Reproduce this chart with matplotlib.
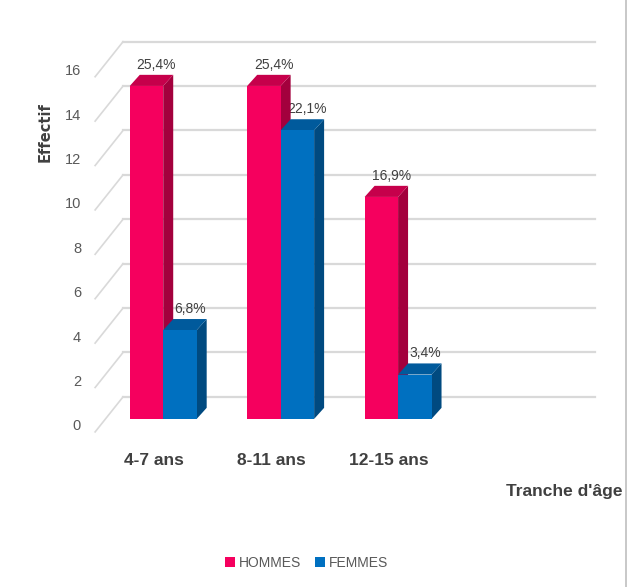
import matplotlib
matplotlib.use('Agg')
import matplotlib.pyplot as plt
from matplotlib.patches import Polygon, Patch
from matplotlib.lines import Line2D
import numpy as np

plt.rcParams['font.family'] = ['Liberation Sans Narrow', 'Liberation Sans', 'DejaVu Sans']

# data
categories = ['4-7 ans', '8-11 ans', '12-15 ans']
hommes = [15, 15, 10]
femmes = [4, 13, 2]
hommes_pct = ['25,4%', '25,4%', '16,9%']
femmes_pct = ['6,8%', '22,1%', '3,4%']
yticks = [0, 2, 4, 6, 8, 10, 12, 14, 16]

# colours (front, top, side)
c_h = ('#F5005E', '#C6004B', '#A3003D')
c_f = ('#0070C0', '#005A9C', '#004A80')

fig = plt.figure(figsize=(6.3, 5.87), dpi=100)
ax = fig.add_axes([0.151, 0.2504, 0.794, 0.6985])
xmin, xmax = -0.58, 3.68
ax.set_xlim(xmin, xmax)
ax.set_ylim(-0.95, 17.52)
ax.axis('off')

# 3d-ish offsets
gx, gy = 0.238, 1.58      # grid wall depth
g0 = -0.585               # front of grid floor
bdx, bdy = 0.085, 0.5     # bar depth
w = 0.285

# back wall grid
for v in yticks:
    yf = v + g0
    yb = yf + gy
    ax.plot([xmin, xmin + gx], [yf, yb], color='#D9D9D9', lw=1.2, zorder=1, clip_on=False)
    ax.plot([xmin + gx, xmax], [yb, yb], color='#D9D9D9', lw=1.6, zorder=1, clip_on=False)
    ax.text(xmin - 0.12, yf + 0.25, str(v), ha='right', va='center', fontsize=10.5,
            color='#595959')


def bar3d(x0, h, cols, label):
    x1 = x0 + w
    side = Polygon([(x1, 0), (x1 + bdx, bdy), (x1 + bdx, h + bdy), (x1, h)],
                   closed=True, facecolor=cols[2], edgecolor='none', zorder=3)
    top = Polygon([(x0, h), (x1, h), (x1 + bdx, h + bdy), (x0 + bdx, h + bdy)],
                  closed=True, facecolor=cols[1], edgecolor='none', zorder=3)
    ax.add_patch(side)
    ax.add_patch(top)
    ax.bar(x0, h, width=w, align='edge', color=cols[0], zorder=3)
    ax.text(x0 + w / 2 + bdx, h + bdy + 0.15, label, ha='center', va='bottom',
            fontsize=10, color='#404040', zorder=2)


x = np.arange(len(categories))
for i in range(len(categories)):
    bar3d(x[i] - w, hommes[i], c_h, hommes_pct[i])
    bar3d(x[i], femmes[i], c_f, femmes_pct[i])

for i, cat in enumerate(categories):
    ax.text(x[i] - 0.08, -1.55, cat, ha='center', va='top', fontsize=12.5,
            fontweight='bold', color='#404040', clip_on=False)

fig.text(0.072, 0.775, 'Effectif', rotation=90, ha='center', va='center',
         fontsize=10.5, fontweight='bold', color='#404040', family='DejaVu Sans')
fig.text(0.988, 0.162, "Tranche d'âge", ha='right', va='center', fontsize=12.5,
         fontweight='bold', color='#404040')

handles = [Patch(facecolor=c_h[0], label='HOMMES'), Patch(facecolor=c_f[0], label='FEMMES')]
fig.legend(handles=handles, loc='center', bbox_to_anchor=(0.487, 0.041), ncol=2,
           frameon=False, fontsize=10, handlelength=0.7, handleheight=0.7,
           handletextpad=0.3, columnspacing=1.0, labelcolor='#595959')

fig.add_artist(Line2D([0.994, 0.994], [0, 1], color='#BFBFBF', lw=1.2,
                      transform=fig.transFigure))

plt.savefig('out.png', dpi=100)
